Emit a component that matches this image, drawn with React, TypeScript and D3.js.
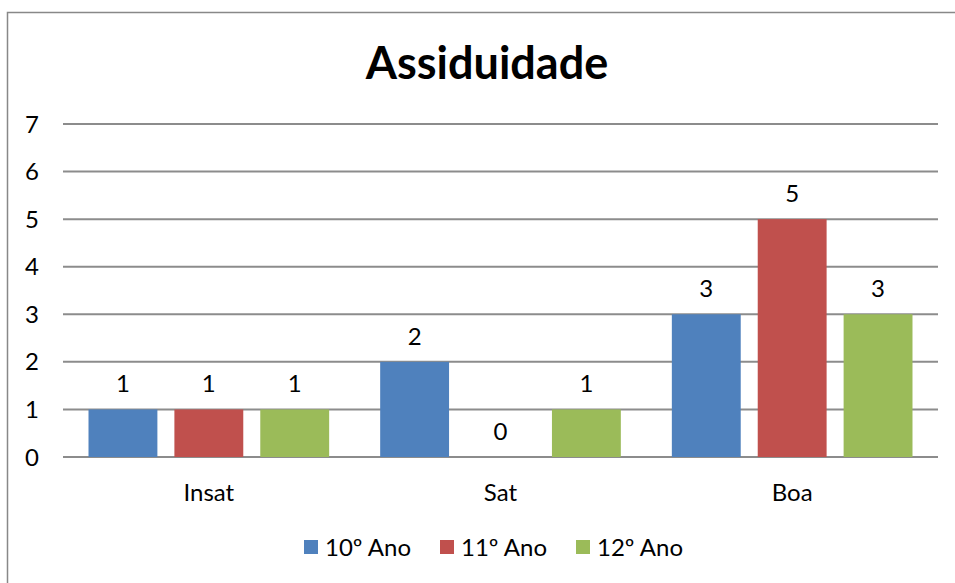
import React from 'react';
import * as d3 from 'd3';

const categories = ['Insat', 'Sat', 'Boa'];
const seriesNames = ['10º Ano', '11º Ano', '12º Ano'];
const seriesColors = ['#4F81BD', '#C0504D', '#9BBB59'];
const ano10 = [1, 2, 3];
const ano11 = [1, 0, 5];
const ano12 = [1, 1, 3];
const yTicks = [0, 1, 2, 3, 4, 5, 6, 7];

const seriesValues = [ano10, ano11, ano12];
const FONT = 'Lato, "Open Sans", sans-serif';

export default function App()
{
    const width = 955;
    const height = 583;
    const plot = { left: 63, right: 938, top: 124, bottom: 457 };

    const y = d3.scaleLinear().domain([0, 7]).range([plot.bottom, plot.top]);
    const x0 = d3.scaleBand().domain(categories).range([plot.left, plot.right]);
    const x1 = d3.scaleBand()
        .domain(seriesNames)
        .range([0, x0.bandwidth()])
        .paddingInner(0.198)
        .paddingOuter(0.297);

    const legendStart = 304;
    const legendStep = 136;

    return (
        <svg width={ width } height={ height }
            style={ { position: 'absolute', left: 0, top: 0, background: '#fff', fontFamily: FONT, overflow: 'hidden' } }>
            { /* chart frame: only left and top edges fall inside the picture */ }
            <path d={ `M7.5,${ height }V12.5H${ width }` } fill="none" stroke="#888" strokeWidth={ 1.5 } />

            <text x={ 487 } y={ 79 } textAnchor="middle" fontSize={ 45 } fontWeight={ 700 } fill="#000">Assiduidade</text>

            { yTicks.map((t) => (
                <g key={ t }>
                    <line x1={ plot.left } x2={ plot.right } y1={ y(t) } y2={ y(t) } stroke="#8c8c8c" strokeWidth={ 2 } />
                    <text x={ 32 } y={ y(t) + 8.5 } textAnchor="middle" fontSize={ 24 } fill="#000">{ t }</text>
                </g>
            )) }

            { categories.map((c, ci) => (
                <g key={ c } transform={ `translate(${ x0(c) },0)` }>
                    { seriesNames.map((s, si) =>
                    {
                        const v = seriesValues[si][ci];
                        const bx = x1(s) as number;
                        return (
                            <g key={ s }>
                                <rect x={ bx } y={ y(v) } width={ x1.bandwidth() } height={ y(0) - y(v) } fill={ seriesColors[si] } />
                                <text x={ bx + x1.bandwidth() / 2 } y={ y(v) - 17 } textAnchor="middle" fontSize={ 24 } fill="#000">{ v }</text>
                            </g>
                        );
                    }) }
                    <text x={ x0.bandwidth() / 2 } y={ 501 } textAnchor="middle" fontSize={ 24 } fill="#000">{ c }</text>
                </g>
            )) }

            { seriesNames.map((s, i) => (
                <g key={ s } transform={ `translate(${ legendStart + i * legendStep },0)` }>
                    <rect x={ 0 } y={ 540 } width={ 14 } height={ 14 } fill={ seriesColors[i] } />
                    <text x={ 21 } y={ 556 } fontSize={ 24 } fill="#000">{ s }</text>
                </g>
            )) }
        </svg>
    );
}
